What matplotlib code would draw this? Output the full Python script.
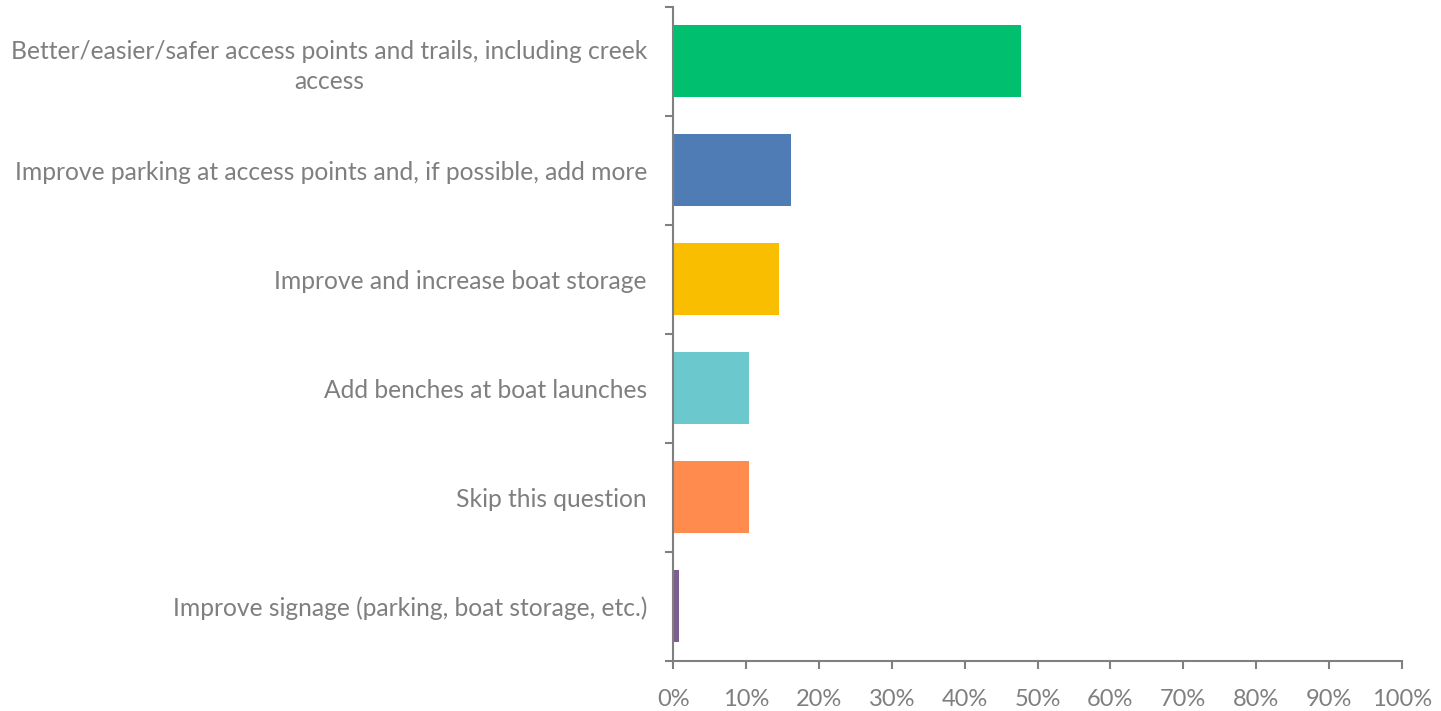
import numpy as np
import matplotlib.pyplot as plt
from matplotlib.ticker import FixedLocator, PercentFormatter

categories = [
    "Better/easier/safer access points and trails, including creek\naccess",
    "Improve parking at access points and, if possible, add more",
    "Improve and increase boat storage",
    "Add benches at boat launches",
    "Skip this question",
    "Improve signage (parking, boat storage, etc.)",
]
shares = [47.7, 16.2, 14.5, 10.4, 10.4, 0.8]
colors = ["#00BF6F", "#507CB6", "#F9BE00", "#6BC8CD", "#FF8B4F", "#7D5E90"]
x_ticks = list(range(0, 101, 10))

axis_gray = "#808080"
text_gray = "#7f7f7f"

plt.rcParams['font.family'] = ['Lato', 'DejaVu Sans']

fig = plt.figure(figsize=(14.41, 7.11), dpi=100)
ax = fig.add_axes([0.4673, 0.0707, 0.5054, 0.9199])

y = np.arange(len(categories))
ax.barh(y, shares, height=0.66, color=colors)

ax.set_xlim(0, 100)
ax.set_ylim(len(categories) - 0.5, -0.5)

ax.set_xticks(x_ticks)
ax.xaxis.set_major_formatter(PercentFormatter(decimals=0))
ax.set_yticks(y)
ax.set_yticklabels(categories, multialignment='center', linespacing=1.35)
# tick marks sit between categories, labels at the centres
ax.yaxis.set_minor_locator(FixedLocator(np.arange(-0.5, len(categories), 1.0)))

for s in ['top', 'right']:
    ax.spines[s].set_visible(False)
for s in ['left', 'bottom']:
    ax.spines[s].set_color(axis_gray)
    ax.spines[s].set_linewidth(1.5)

ax.tick_params(axis='y', which='major', length=0, pad=19, labelsize=17.7, labelcolor=text_gray)
ax.tick_params(axis='y', which='minor', length=6, width=1.5, color=axis_gray)
ax.tick_params(axis='x', which='major', length=6, width=1.5, color=axis_gray,
               pad=14, labelsize=17, labelcolor=text_gray)

fig.savefig("out.png", dpi=100)
